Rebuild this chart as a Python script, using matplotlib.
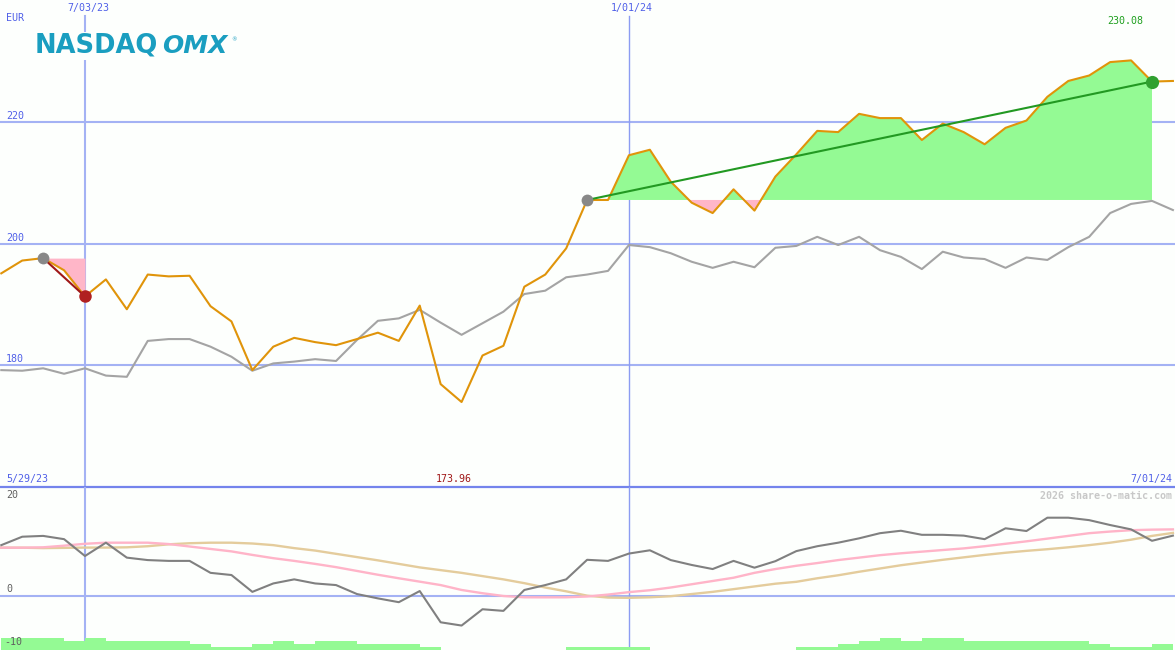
import numpy as np
import matplotlib
matplotlib.use('Agg')
import matplotlib.pyplot as plt

# weekly closes, 6/05/23 .. 7/01/24 (EUR)
close = [195.1, 197.2, 197.6, 195.6, 191.3, 194.1, 189.2, 194.9, 194.6, 194.7,
         189.7, 187.2, 179.2, 183.05, 184.5, 183.8, 183.3, 184.3, 185.35, 184.0,
         189.8, 176.9, 173.96, 181.6, 183.2, 192.9, 194.9, 199.2, 207.15, 207.15,
         214.5, 215.4, 210.15, 206.7, 205.0, 208.9, 205.4, 211.0, 214.65, 218.5,
         218.3, 221.3, 220.6, 220.6, 217.0, 219.7, 218.3, 216.3, 219.0, 220.2,
         224.1, 226.7, 227.6, 229.8, 230.08, 226.6, 226.7]

# comparison index (grey line)
index_line = [179.2, 179.1, 179.5, 178.6, 179.5, 178.3, 178.1, 184.0, 184.3, 184.3,
              183.05, 181.4, 179.1, 180.3, 180.6, 181.0, 180.7, 184.15, 187.3, 187.7,
              189.1, 187.0, 185.0, 186.9, 188.8, 191.7, 192.25, 194.45, 194.9, 195.5,
              199.75, 199.4, 198.4, 197.0, 196.0, 197.0, 196.1, 199.3, 199.6, 201.1,
              199.75, 201.1, 198.9, 197.8, 195.8, 198.65, 197.7, 197.45, 196.0, 197.7,
              197.3, 199.4, 201.1, 205.0, 206.5, 207.0, 205.5]

# lower panel: momentum and its two averages
momentum = [9.3, 10.85, 11.0, 10.4, 7.3, 9.75, 7.0, 6.55, 6.4, 6.4,
            4.2, 3.8, 0.7, 2.25, 3.0, 2.25, 1.95, 0.3, -0.5, -1.2,
            0.85, -4.9, -5.5, -2.5, -2.8, 1.05, 1.95, 3.0, 6.6, 6.4,
            7.75, 8.35, 6.55, 5.65, 4.9, 6.4, 5.15, 6.35, 8.2, 9.1,
            9.75, 10.55, 11.5, 11.95, 11.2, 11.2, 11.05, 10.4, 12.4, 11.9,
            14.35, 14.35, 13.9, 13.0, 12.2, 10.1, 11.05]

ma_fast = [8.83, 8.83, 8.9, 9.2, 9.55, 9.75, 9.75, 9.75, 9.5, 9.05,
           8.6, 8.15, 7.5, 6.9, 6.4, 5.85, 5.25, 4.55, 3.85, 3.2,
           2.58, 1.95, 1.05, 0.45, -0.06, -0.3, -0.31, -0.3, -0.15, 0.2,
           0.65, 1.0, 1.5, 2.1, 2.7, 3.3, 4.2, 4.9, 5.5, 6.0,
           6.55, 7.0, 7.45, 7.8, 8.1, 8.4, 8.7, 9.1, 9.55, 10.0,
           10.5, 11.0, 11.5, 11.8, 12.05, 12.15, 12.2]

ma_slow = [8.83, 8.83, 8.75, 8.8, 8.85, 8.85, 8.9, 9.1, 9.45, 9.65,
           9.75, 9.75, 9.6, 9.3, 8.75, 8.3, 7.7, 7.1, 6.5, 5.85,
           5.2, 4.7, 4.2, 3.6, 3.0, 2.3, 1.5, 0.8, 0.0, -0.35,
           -0.4, -0.3, -0.1, 0.3, 0.7, 1.2, 1.7, 2.2, 2.55, 3.2,
           3.75, 4.4, 5.0, 5.6, 6.1, 6.6, 7.05, 7.5, 7.9, 8.25,
           8.55, 8.9, 9.3, 9.75, 10.3, 11.0, 11.55]

# green blocks along the bottom (level per week)
vol_level = [4, 4, 4, 3, 4, 3, 3, 3, 3, 2, 1, 1, 2, 3, 2, 3, 3, 2, 2, 2,
             1, 0, 0, 0, 0, 0, 0, 1, 1, 1, 1, 0, 0, 0, 0, 0, 0, 0, 1, 1,
             2, 3, 4, 3, 4, 4, 3, 3, 3, 3, 3, 3, 2, 1, 1, 2]

y_ticks = [180, 200, 220]
marked = {'7/03/23': 4, '1/01/24': 30}
trend_a = (2, 4)      # gray dot -> red dot
trend_b = (28, 55)    # gray dot -> green dot

W, H = 1175, 650
bg = '#fdfffd'
blue = '#5060e8'
grid = '#a4b2f4'

weeks = np.arange(len(close))
close = np.array(close)

fig = plt.figure(figsize=(W / 100, H / 100), dpi=100, facecolor=bg)
ax = fig.add_axes([0, 163 / H, 1, 487 / H], facecolor=bg)
ax2 = fig.add_axes([0, 0, 1, 163 / H], facecolor=bg)
for a in (ax, ax2):
    a.set_xlim(-0.062, 56.1)
    a.axis('off')
ax.set_ylim(160, 240)
ax2.set_ylim(-10, 20)

# grid
for v in y_ticks:
    ax.axhline(v, color=grid, lw=1.5, zorder=1)
ax2.axhline(0, color=grid, lw=1.5, zorder=1)
ax.axhline(160, color='#7484ec', lw=1.6, zorder=6, clip_on=False)
i0 = list(marked.values())[0]
ax.axvline(weeks[i0], ymax=1 - 16 / 487, color=grid, lw=1.5, zorder=1)
ax2.axvline(weeks[i0], color=grid, lw=1.5, zorder=1)
i1 = list(marked.values())[1]
ax.axvline(weeks[i1], ymax=1 - 16 / 487, color='#8c9cf2', lw=1.0, zorder=1)
ax2.axvline(weeks[i1], color='#8c9cf2', lw=1.0, zorder=1)

# fills relative to the trend start
a0, a1 = trend_a
seg = slice(a0, a1 + 1)
ax.fill_between(weeks[seg], close[a0], close[seg], where=close[seg] <= close[a0],
                interpolate=True, color='#ffb6c8', lw=0, zorder=2)
b0, b1 = trend_b
seg = slice(b0, b1 + 1)
ax.fill_between(weeks[seg], close[b0], close[seg], where=close[seg] >= close[b0],
                interpolate=True, color='#94fa94', lw=0, zorder=2)
ax.fill_between(weeks[seg], close[b0], close[seg], where=close[seg] < close[b0],
                interpolate=True, color='#ffb6c8', lw=0, zorder=2)

# price lines
ax.plot(weeks, index_line, color='#a4a4a4', lw=1.5, zorder=3)
ax.plot(weeks, close, color='#e0940a', lw=1.5, zorder=4)

# trend lines and markers
ax.plot([weeks[a0], weeks[a1]], [close[a0], close[a1]], color='#a01818', lw=1.5, zorder=5)
ax.plot(weeks[a0], close[a0], 'o', color='#888888', ms=8.5, mew=0, zorder=6)
ax.plot(weeks[a1], close[a1], 'o', color='#b02020', ms=9, mew=0, zorder=6)
ax.plot([weeks[b0], weeks[b1]], [close[b0], close[b1]], color='#229922', lw=1.5, zorder=5)
ax.plot(weeks[b0], close[b0], 'o', color='#888888', ms=8.5, mew=0, zorder=6)
ax.plot(weeks[b1], close[b1], 'o', color='#30a030', ms=9.5, mew=0, zorder=6)

# lower panel
ax2.bar(weeks[:-1], np.array(vol_level) * 0.56, bottom=-10, width=1.0, align='edge',
        color='#94fa94', lw=0, zorder=2)
ax2.plot(weeks, ma_slow, color='#e4cc9c', lw=1.7, zorder=3)
ax2.plot(weeks, ma_fast, color='#ffb4c8', lw=1.7, zorder=3)
ax2.plot(weeks, momentum, color='#808080', lw=1.5, zorder=4)


def label(x, y, s, color=blue, ha='left', **kw):
    fig.text(x / W, 1 - y / H, s, color=color, ha=ha, va='center',
             family='DejaVu Sans Mono', fontsize=7.2, **kw)


label(88, 8, list(marked)[0], ha='center')
label(632, 8, list(marked)[1], ha='center')
label(6, 18, 'EUR')
for v, y in zip(y_ticks, [359, 238, 116]):
    label(6, y, str(v))
label(1125, 21, '%.2f' % close.max(), color='#20a020', ha='center')
label(6, 479, '5/29/23')
label(454, 479, '%.2f' % close.min(), color='#a01818', ha='center')
label(1172, 479, '7/01/24', ha='right')
label(1172, 496, '2026 share-o-matic.com', color='#c8c8c8', ha='right',
      fontweight='bold')
label(6, 495, '20', color='#606060')
label(6, 589, '0', color='#606060')
label(4, 642, '-10', color='#606060')

# logo
fig.text(35 / W, 1 - 53 / H, 'NASDAQ', color='#1a9ec0', fontsize=18.5,
         fontweight='heavy', family='DejaVu Sans', va='baseline',
         bbox=dict(facecolor=bg, edgecolor='none', pad=1))
fig.text(162 / W, 1 - 53 / H, 'OMX', color='#1a9ec0', fontsize=18,
         fontweight='heavy', style='oblique', family='DejaVu Sans', va='baseline')
fig.text(231 / W, 1 - 40 / H, '\u00ae', color='#1a9ec0', fontsize=4, va='center')

fig.savefig('out.png', dpi=100, facecolor=bg)
